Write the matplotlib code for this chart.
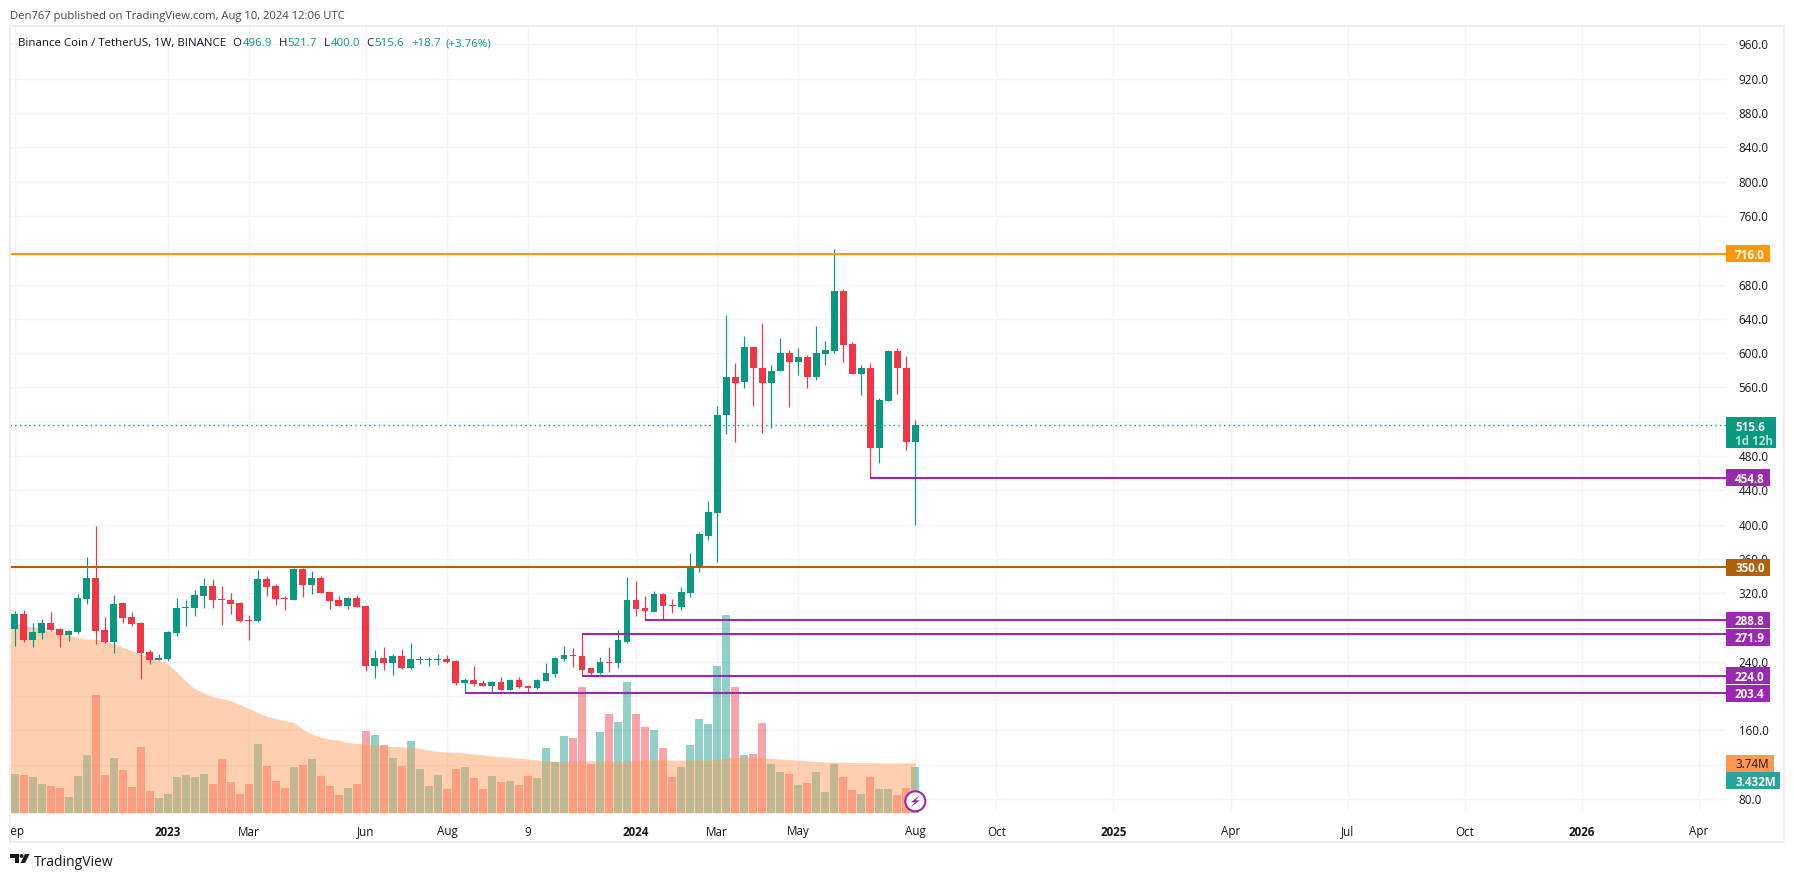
import numpy as np
import matplotlib
matplotlib.use("Agg")
import matplotlib.pyplot as plt
from matplotlib.patches import Rectangle, Circle, Polygon
from matplotlib.transforms import Bbox

plt.rcParams['font.family'] = ['Open Sans', 'Noto Sans', 'DejaVu Sans']

opens = [278.3,295.7,265.4,273.6,285.2,278.3,271.3,274.8,313.2,337.7,277.1,263.1,308.6,292.2,285.2,251.4,242.1,243.3,273.6,302.7,
         302.7,316.7,328.4,313.2,312.1,308.6,288.7,287.6,336.6,328.4,314.8,312.1,348.2,329.6,337.7,321.4,312.1,305.1,314.4,305.1,
         235.1,244.4,238.6,246.8,232.8,242.1,242.1,242.1,243.3,240.9,215.3,218.8,215.3,211.8,216.4,207.1,218.8,211.8,209.4,217.6,
         225.8,243.3,247.9,246.8,232.8,226.9,239.8,238.6,263.1,312.1,302.7,298.1,319.1,306.2,303.9,320.2,351.7,387.3,413.0,527.3,
         571.6,566.9,606.6,583.2,564.6,578.6,599.6,590.2,594.9,572.7,598.4,601.9,673.0,610.1,576.2,582.1,488.8,543.6,601.9,583.2,496.9]
highs = [299.2,300.4,285.2,289.9,298.1,279.4,277.1,319.1,362.2,398.4,292.2,317.9,309.7,298.1,286.4,253.8,249.1,275.9,314.4,312.1,
         323.7,337.7,336.6,328.4,320.2,309.7,294.6,347.0,340.1,330.7,316.7,349.4,349.4,345.9,340.1,322.6,316.7,315.6,317.9,305.1,
         253.8,257.3,249.1,254.9,261.9,246.8,245.6,249.1,247.9,242.1,221.1,235.1,218.8,217.6,222.3,219.9,222.3,213.0,219.9,238.6,
         245.6,258.4,256.1,272.4,232.8,245.6,257.3,277.1,338.9,334.2,316.7,322.6,320.2,313.2,327.2,366.9,391.4,427.0,537.8,645.0,
         587.9,619.4,607.7,634.6,585.6,618.2,604.2,605.4,598.0,631.1,613.6,722.0,674.2,612.4,585.6,587.9,547.1,603.1,605.4,597.2,521.7]
lows = [258.8,263.1,257.3,266.6,275.9,257.3,264.3,272.4,307.4,260.8,261.9,250.3,285.2,281.7,219.9,237.4,242.1,240.9,270.1,281.7,
        293.4,302.7,302.7,282.9,295.7,286.4,265.4,286.4,316.7,306.2,300.4,312.1,315.6,319.1,319.8,301.6,305.1,301.6,303.9,229.3,
        221.1,230.4,224.6,231.6,231.6,237.4,235.1,236.3,238.6,212.9,203.6,211.8,211.8,204.8,207.1,207.1,209.4,203.6,208.3,217.6,
        222.3,240.9,233.9,224.6,223.4,225.8,228.1,232.8,261.9,293.4,288.7,298.1,289.9,296.9,300.4,315.6,344.7,381.5,356.0,505.1,
        495.8,559.9,538.9,507.4,512.1,578.6,536.6,573.9,559.9,568.1,586.7,600.7,590.2,575.1,550.6,455.0,471.3,543.6,552.9,486.5,400.0]
closes = [295.7,265.4,274.8,285.2,277.1,271.3,275.9,314.4,337.7,275.9,263.1,307.4,291.1,284.1,250.3,242.1,244.4,274.8,302.7,303.9,
          317.9,328.4,312.1,312.1,307.4,287.6,287.6,336.6,327.2,313.2,313.6,348.2,329.6,337.7,320.2,310.9,305.1,314.4,303.9,235.1,
          244.4,238.6,246.8,232.8,243.3,243.3,243.3,243.3,240.2,215.3,218.8,214.1,211.8,216.4,207.1,218.8,210.6,209.8,218.8,226.9,
          244.4,247.9,246.8,230.4,226.9,239.8,238.6,265.4,312.1,301.6,299.2,319.1,305.1,305.1,321.4,350.5,389.0,414.2,528.4,571.6,
          565.7,606.6,582.1,564.6,579.7,599.6,590.2,594.9,572.7,599.6,603.1,673.0,608.9,576.2,582.1,488.8,544.8,601.9,582.1,495.8,515.6]
volumes = [2.90,2.83,2.68,2.15,2.00,1.85,1.18,2.75,4.33,8.83,2.83,4.10,3.20,1.93,4.93,1.63,1.10,1.40,2.68,2.83,
           2.68,2.90,2.15,4.03,2.30,1.40,2.15,5.15,3.50,2.38,1.85,3.43,3.58,4.03,2.75,2.00,1.33,1.85,2.15,6.13,
           5.83,5.08,4.10,3.50,5.38,3.28,2.00,2.83,1.78,3.28,3.43,2.60,1.78,2.75,2.30,2.38,2.08,2.75,2.60,4.85,
           3.80,5.75,5.60,9.43,3.65,6.05,7.40,6.80,9.80,7.40,6.43,6.20,4.85,2.68,3.43,5.08,7.03,6.65,11.00,14.75,
           9.43,4.33,4.40,6.73,3.65,3.05,2.90,2.08,2.23,3.05,1.55,3.65,2.68,1.70,1.40,2.68,1.78,1.78,1.33,1.85,3.43]
# first entry is the week just left of the visible range
vol_ma = [14.30,14.22,14.00,13.90,13.70,13.60,13.48,13.31,13.11,12.99,12.96,12.82,12.64,12.37,12.13,11.86,11.64,11.41,11.12,10.53,9.86,
          9.27,8.98,8.68,8.54,8.39,8.09,7.80,7.50,7.21,7.06,6.89,6.77,6.25,5.88,5.66,5.51,5.44,5.26,5.19,5.14,
          5.07,4.99,4.97,4.94,4.92,4.82,4.70,4.60,4.55,4.53,4.48,4.40,4.35,4.26,4.21,4.16,4.08,4.03,3.96,3.89,
          3.86,3.86,3.86,3.86,3.89,3.89,3.89,3.86,3.89,3.91,3.96,3.96,3.96,3.94,3.94,3.96,3.96,3.96,4.01,4.11,
          4.16,4.18,4.18,4.13,4.06,4.03,3.99,3.94,3.89,3.84,3.81,3.81,3.79,3.76,3.76,3.76,3.74,3.74,3.74,3.74,3.74]

y_ticks = list(range(80, 1000, 40))
hidden_y_labels = {120, 200, 280, 520, 720}   # covered by the price tags in the reference
x_tick_weeks = [0, 17, 26, 39, 48, 57, 69, 78, 87, 100, 109, 122, 135, 148, 161, 174, 187]
x_tick_labels = ['Sep', '2023', 'Mar', 'Jun', 'Aug', '9', '2024', 'Mar', 'May', 'Aug', 'Oct', '2025', 'Apr', 'Jul', 'Oct', '2026', 'Apr']
bold_x_labels = {'2023', '2024', '2025', '2026'}

level_prices = [716.0, 350.0, 454.8, 288.8, 271.9, 224.0, 203.4]
level_starts = [-1, -1, 95, 70, 63, 63, 50]
level_colors = ['#ff9800', '#b25f08', '#9c27b0', '#9c27b0', '#9c27b0', '#9c27b0', '#9c27b0']
label_shift = [0, 0, 0, 0, 3, 0, 0]
last_price = 515.6

UP = '#089981'
DOWN = '#f23645'
GRID = '#f0f3fa'
INK = '#131722'

W, H = 1794, 877
fig = plt.figure(figsize=(W / 100, H / 100), dpi=100, facecolor='white')
L, R, T, B = 10, 1726, 26, 813
pos = [L / W, (H - B) / H, (R - L) / W, (B - T) / H]
xlim = (-0.5, 190.0)
ylim = (63.67, 981.5)
vol_top = (B - T) / 13.4

back = fig.add_axes(pos, zorder=0, facecolor='white')
vol = fig.add_axes(pos, zorder=1, facecolor='none')
ax = fig.add_axes(pos, zorder=2, facecolor='none')
for a in (back, vol, ax):
    a.set_xlim(*xlim)
    for s in a.spines.values():
        s.set_visible(False)
back.set_ylim(*ylim)
ax.set_ylim(*ylim)
vol.set_ylim(0, vol_top)
vol.axis('off')
ax.axis('off')

back.yaxis.tick_right()
back.set_yticks(y_ticks)
back.set_yticklabels(['' if v in hidden_y_labels else f'{v:.1f}' for v in y_ticks], fontsize=8.4, color=INK)
back.set_xticks(x_tick_weeks)
back.set_xticklabels(x_tick_labels, fontsize=8.4, color=INK)
back.tick_params(axis='both', length=0)
back.tick_params(axis='y', pad=9)
back.tick_params(axis='x', pad=9)
back.grid(True, color=GRID, lw=1.0)
for lab in back.get_xticklabels():
    if lab.get_text() in bold_x_labels:
        lab.set_fontweight('bold')
first = back.get_xticklabels()[0]
first.set_clip_box(Bbox([[L, 0], [W, H]]))
first.set_clip_on(True)

weeks = np.arange(len(opens))
o, h, l, c = map(np.array, (opens, highs, lows, closes))
up = c >= o
cols = np.where(up, UP, DOWN)

vol.bar(weeks, volumes, width=0.89, color=cols, alpha=0.45, lw=0)
vol.fill_between(np.arange(-1, len(vol_ma) - 1), vol_ma, 0, color='#ff9850', alpha=0.45, lw=0)

ax.vlines(weeks, l, h, colors=cols, lw=0.85)
ax.bar(weeks, np.maximum(np.abs(c - o), 1.0), bottom=np.minimum(o, c), width=0.76, color=cols, lw=0)
ax.axhline(last_price, color=UP, lw=1.0, ls=(0, (1, 2.4)))
for p, s, col in zip(level_prices, level_starts, level_colors):
    ax.hlines(p, s if s >= 0 else xlim[0], xlim[1], color=col, lw=1.5)

ov = fig.add_axes([0, 0, 1, 1], zorder=5, facecolor='none')
ov.set_xlim(0, W)
ov.set_ylim(H, 0)
ov.axis('off')
ov.add_patch(Rectangle((L, T), 1784 - L, 842 - T, fill=False, ec='#eceef4', lw=1.5))


def py(price):
    return H - ax.transData.transform((0, price))[1]


def tag(yc, right, col, txt, tcol='white', bold=True, height=16.8):
    ov.add_patch(Rectangle((R, yc - height / 2), right - R, height, fc=col, ec='none'))
    ov.text(1735, yc, txt, color=tcol, fontsize=8.4, va='center_baseline', ha='left',
            fontweight='bold' if bold else 'normal')


for p, col, sh in zip(level_prices, level_colors, label_shift):
    tag(py(p) + sh, 1769.7, col, f'{p:.1f}')

ov.add_patch(Rectangle((R, 417), 1775.7 - R, 30.7, fc=UP, ec='none'))
ov.text(1735, 425.7, f'{last_price:.1f}', color='white', fontsize=8.4, fontweight='bold', va='center_baseline')
ov.text(1735, 440, '1d 12h', color='#b5e0d9', fontsize=8.4, fontweight='bold', va='center_baseline')
tag(763.5, 1773.7, '#ff9850', '3.74M', INK, bold=False)
tag(780.5, 1779.7, '#26a69a', '3.432M')

ov.text(10, 14.7, 'Den767 published on TradingView.com, Aug 10, 2024 12:06 UTC',
        fontsize=8.15, color='#434651', va='center_baseline')
ov.text(18, 42, 'Binance Coin / TetherUS, 1W, BINANCE', fontsize=8.25, color=INK, va='center_baseline')
for x, t, col in [(232.5, 'O', INK), (242.5, '496.9', UP), (278.5, 'H', INK), (287.5, '521.7', UP),
                  (324, 'L', INK), (331, '400.0', UP), (366, 'C', INK), (374, '515.6', UP),
                  (411, '+18.7', UP), (445, '(+3.76%)', UP)]:
    ov.text(x, 42, t, fontsize=8.25, color=col, va='center_baseline')

# TradingView logo
ov.add_patch(Polygon([(10, 854), (19, 854), (19, 863), (14.5, 863), (14.5, 858), (10, 858)], fc=INK, ec='none'))
ov.add_patch(Circle((21.5, 856), 1.9, fc=INK, ec='none'))
ov.add_patch(Polygon([(25, 854), (29.5, 854), (25, 863), (20.5, 863)], fc=INK, ec='none'))
ov.text(33.5, 860, 'TradingView', fontsize=10.0, color=INK, va='center_baseline')

# lightning badge on the last candle
bx = ax.transData.transform((weeks[-1], 0))[0]
by = 801.3
ov.add_patch(Circle((bx, by), 10, fc='white', ec='#9c27b0', lw=1.5))
ov.add_patch(Polygon([(bx + 4.5, by - 6), (bx - 4.5, by + 1), (bx - 0.5, by + 1), (bx - 4.5, by + 6),
                      (bx + 4.5, by - 1), (bx + 0.5, by - 1)], fc='#9c27b0', ec='none'))

fig.savefig('out.png', dpi=100)
